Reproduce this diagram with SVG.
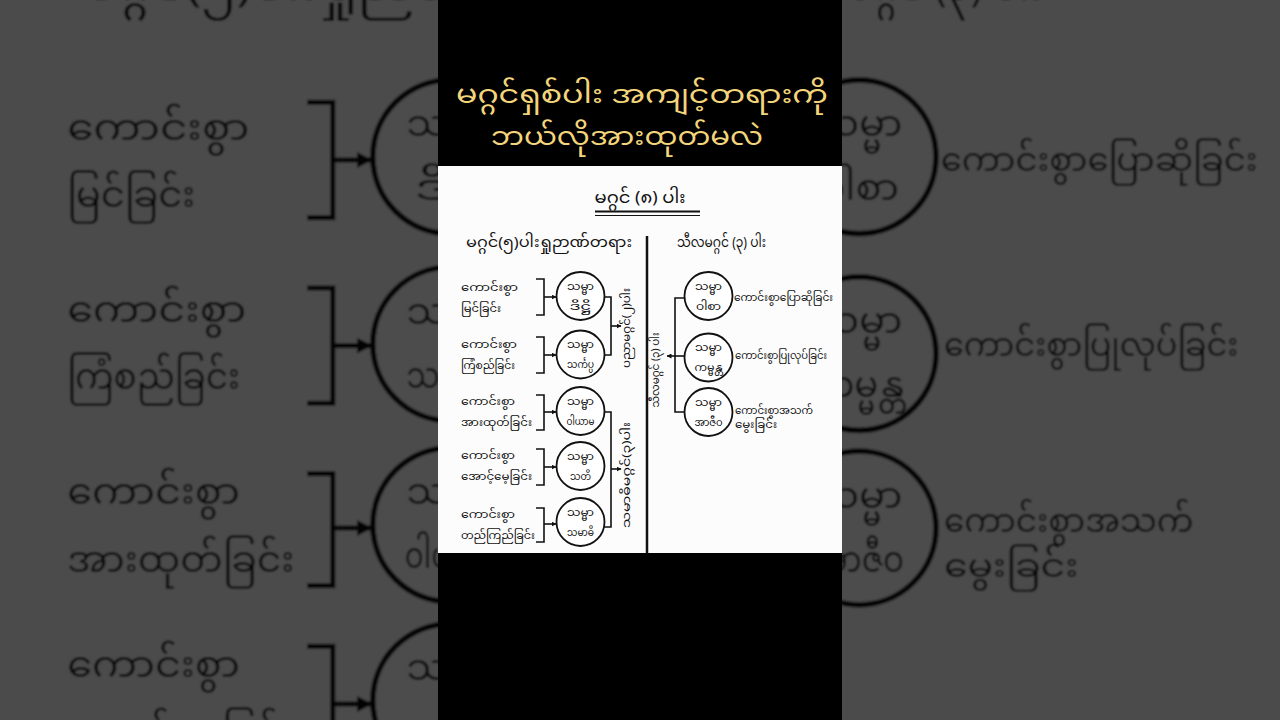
<svg xmlns="http://www.w3.org/2000/svg" xmlns:xlink="http://www.w3.org/1999/xlink" width="1280" height="720" viewBox="0 0 1280 720">
<defs>
<style>
.my{font-family:"Noto Sans Myanmar","Padauk","Myanmar Text","Noto Sans",sans-serif;fill:#111}
.ttl{font-family:"Noto Sans Myanmar","Padauk","Myanmar Text","Noto Sans",sans-serif;fill:#f3d57c;font-size:25px;text-anchor:middle}
.lbl{font-size:11.5px}
.rlb{font-size:10.5px}
.cir{font-size:11.5px;text-anchor:middle}
.rot{font-size:11.5px;text-anchor:middle}
.hd{font-size:13.5px}
.ln{fill:none;stroke:#111;stroke-width:1.6}
.c{fill:#fff;stroke:#111;stroke-width:1.8}
</style>
<marker id="ah" viewBox="0 0 10 10" refX="9" refY="5" markerWidth="5" markerHeight="5" orient="auto" markerUnits="userSpaceOnUse">
<path d="M0,0 L10,5 L0,10 z" fill="#111"/>
</marker>
<filter id="bl" x="-5%" y="-5%" width="110%" height="110%"><feGaussianBlur stdDeviation="1.2"/></filter>
</defs>
<rect width="1280" height="720" fill="#000"/>
<g id="bg" opacity="0.3" filter="url(#bl)">
<use href="#card" xlink:href="#card" transform="translate(640,360) scale(3.2) translate(-640,-359.5)"/>
</g>
<rect x="438" y="0" width="404" height="720" fill="#000"/>
<g id="title">
<text class="ttl" x="642" y="97" dominant-baseline="central" textLength="372" lengthAdjust="spacingAndGlyphs">မဂ္ဂင်ရှစ်ပါး အကျင့်တရားကို</text>
<text class="ttl" x="627" y="139" dominant-baseline="central" textLength="272" lengthAdjust="spacingAndGlyphs">ဘယ်လိုအားထုတ်မလဲ</text>
</g>
<g id="card">
<rect x="438" y="166" width="404" height="387" fill="#fcfcfc"/>
<g id="heading">
<text class="my" x="640" y="199" font-size="17" text-anchor="middle" dominant-baseline="central" textLength="91" lengthAdjust="spacingAndGlyphs">မဂ္ဂင် (၈) ပါး</text>
<line x1="595" y1="211.5" x2="700" y2="211.5" stroke="#111" stroke-width="2.2"/>
<line x1="595" y1="215.5" x2="700" y2="215.5" stroke="#111" stroke-width="1"/>
</g>
<g id="hdr-left"><text class="my hd" x="466" y="244" dominant-baseline="central" textLength="166" lengthAdjust="spacingAndGlyphs">မဂ္ဂင်(၅)ပါးရှုဉာဏ်တရား</text></g>
<g id="hdr-right"><text class="my hd" x="677" y="244" dominant-baseline="central" textLength="89" lengthAdjust="spacingAndGlyphs">သီလမဂ္ဂင် (၃) ပါး</text></g>
<line id="divider" x1="647" y1="236" x2="647" y2="553" stroke="#111" stroke-width="2.5"/>

<g id="connectors">
<path class="ln" d="M536,279 H544 V315 H536"/>
<path class="ln" d="M544,297 H556" marker-end="url(#ah)"/>
<path class="ln" d="M536,337 H544 V373 H536"/>
<path class="ln" d="M544,355 H556" marker-end="url(#ah)"/>
<path class="ln" d="M536,395 H544 V430 H536"/>
<path class="ln" d="M544,412 H556" marker-end="url(#ah)"/>
<path class="ln" d="M536,449 H544 V485 H536"/>
<path class="ln" d="M544,467 H556" marker-end="url(#ah)"/>
<path class="ln" d="M536,508 H544 V542 H536"/>
<path class="ln" d="M544,524 H556" marker-end="url(#ah)"/>
<path class="ln" d="M604,297 H611 V355 H604"/>
<path class="ln" d="M611,326 H621" marker-end="url(#ah)"/>
<path class="ln" d="M604,412 H611 V527 H604"/>
<path class="ln" d="M611,469 H621" marker-end="url(#ah)"/>
<path class="ln" d="M685,298 H675 V412 H685"/>
<path class="ln" d="M685,356 H667" marker-end="url(#ah)"/>
</g>

<g id="l1"><text class="my lbl" x="461" y="288" dominant-baseline="central" textLength="57" lengthAdjust="spacingAndGlyphs">ကောင်းစွာ</text><text class="my lbl" x="461" y="309" dominant-baseline="central" textLength="40" lengthAdjust="spacingAndGlyphs">မြင်ခြင်း</text></g>
<g id="l2"><text class="my lbl" x="461" y="345" dominant-baseline="central" textLength="56" lengthAdjust="spacingAndGlyphs">ကောင်းစွာ</text><text class="my lbl" x="461" y="366" dominant-baseline="central" textLength="54" lengthAdjust="spacingAndGlyphs">ကြံစည်ခြင်း</text></g>
<g id="l3"><text class="my lbl" x="461" y="402" dominant-baseline="central" textLength="54" lengthAdjust="spacingAndGlyphs">ကောင်းစွာ</text><text class="my lbl" x="461" y="423" dominant-baseline="central" textLength="71" lengthAdjust="spacingAndGlyphs">အားထုတ်ခြင်း</text></g>
<g id="l4"><text class="my lbl" x="461" y="456" dominant-baseline="central" textLength="54" lengthAdjust="spacingAndGlyphs">ကောင်းစွာ</text><text class="my lbl" x="461" y="477" dominant-baseline="central" textLength="71" lengthAdjust="spacingAndGlyphs">အောင့်မေ့ခြင်း</text></g>
<g id="l5"><text class="my lbl" x="461" y="515" dominant-baseline="central" textLength="54" lengthAdjust="spacingAndGlyphs">ကောင်းစွာ</text><text class="my lbl" x="461" y="536" dominant-baseline="central" textLength="74" lengthAdjust="spacingAndGlyphs">တည်ကြည်ခြင်း</text></g>

<g id="c1"><circle class="c" cx="580.5" cy="296" r="24"/><text class="my cir" x="580.5" y="287" dominant-baseline="central" textLength="27" lengthAdjust="spacingAndGlyphs">သမ္မာ</text><text class="my cir" x="580.5" y="307" dominant-baseline="central" textLength="22" lengthAdjust="spacingAndGlyphs">ဒိဋ္ဌိ</text></g>
<g id="c2"><circle class="c" cx="580.5" cy="354.5" r="24"/><text class="my cir" x="580.5" y="345.5" dominant-baseline="central" textLength="27" lengthAdjust="spacingAndGlyphs">သမ္မာ</text><text class="my cir" x="580.5" y="365.5" dominant-baseline="central" textLength="27" lengthAdjust="spacingAndGlyphs">သင်္ကပ္ပ</text></g>
<g id="c3"><circle class="c" cx="580.5" cy="411" r="24"/><text class="my cir" x="580.5" y="402" dominant-baseline="central" textLength="27" lengthAdjust="spacingAndGlyphs">သမ္မာ</text><text class="my cir" x="580.5" y="422" dominant-baseline="central" textLength="28" lengthAdjust="spacingAndGlyphs">ဝါယာမ</text></g>
<g id="c4"><circle class="c" cx="580.5" cy="466" r="24"/><text class="my cir" x="580.5" y="457" dominant-baseline="central" textLength="27" lengthAdjust="spacingAndGlyphs">သမ္မာ</text><text class="my cir" x="580.5" y="477" dominant-baseline="central" textLength="21" lengthAdjust="spacingAndGlyphs">သတိ</text></g>
<g id="c5"><circle class="c" cx="580.5" cy="522" r="24"/><text class="my cir" x="580.5" y="513" dominant-baseline="central" textLength="27" lengthAdjust="spacingAndGlyphs">သမ္မာ</text><text class="my cir" x="580.5" y="533" dominant-baseline="central" textLength="27" lengthAdjust="spacingAndGlyphs">သမာဓိ</text></g>

<g id="g-panna"><text class="my rot" transform="translate(627,328) rotate(-90)" dominant-baseline="central" textLength="80" lengthAdjust="spacingAndGlyphs">ပညာမဂ္ဂင်(၂)ပါး</text></g>
<g id="g-samadhi"><text class="my rot" transform="translate(627,475) rotate(-90)" dominant-baseline="central" textLength="106" lengthAdjust="spacingAndGlyphs">သမာဓိမဂ္ဂင်(၃)ပါး</text></g>
<g id="g-sila"><text class="my rot" transform="translate(656,370) rotate(-90)" dominant-baseline="central" textLength="75" lengthAdjust="spacingAndGlyphs">သီလမဂ္ဂင် (၃) ပါး</text></g>

<g id="r1"><circle class="c" cx="708.5" cy="296" r="24"/><text class="my cir" x="708.5" y="287" dominant-baseline="central" textLength="27" lengthAdjust="spacingAndGlyphs">သမ္မာ</text><text class="my cir" x="708.5" y="307" dominant-baseline="central" textLength="25" lengthAdjust="spacingAndGlyphs">ဝါစာ</text></g>
<g id="r2"><circle class="c" cx="708.5" cy="357.5" r="24"/><text class="my cir" x="708.5" y="348.5" dominant-baseline="central" textLength="27" lengthAdjust="spacingAndGlyphs">သမ္မာ</text><text class="my cir" x="708.5" y="368.5" dominant-baseline="central" textLength="28" lengthAdjust="spacingAndGlyphs">ကမ္မန္တ</text></g>
<g id="r3"><circle class="c" cx="708.5" cy="412" r="24"/><text class="my cir" x="708.5" y="403" dominant-baseline="central" textLength="27" lengthAdjust="spacingAndGlyphs">သမ္မာ</text><text class="my cir" x="708.5" y="423" dominant-baseline="central" textLength="28" lengthAdjust="spacingAndGlyphs">အာဇီဝ</text></g>

<g id="rl1"><text class="my rlb" x="734" y="298" dominant-baseline="central" textLength="99" lengthAdjust="spacingAndGlyphs">ကောင်းစွာပြောဆိုခြင်း</text></g>
<g id="rl2"><text class="my rlb" x="735" y="356" dominant-baseline="central" textLength="92" lengthAdjust="spacingAndGlyphs">ကောင်းစွာပြုလုပ်ခြင်း</text></g>
<g id="rl3"><text class="my rlb" x="735" y="411" dominant-baseline="central" textLength="78" lengthAdjust="spacingAndGlyphs">ကောင်းစွာအသက်</text><text class="my rlb" x="735" y="425" dominant-baseline="central" textLength="42" lengthAdjust="spacingAndGlyphs">မွေးခြင်း</text></g>
</g>
</svg>
